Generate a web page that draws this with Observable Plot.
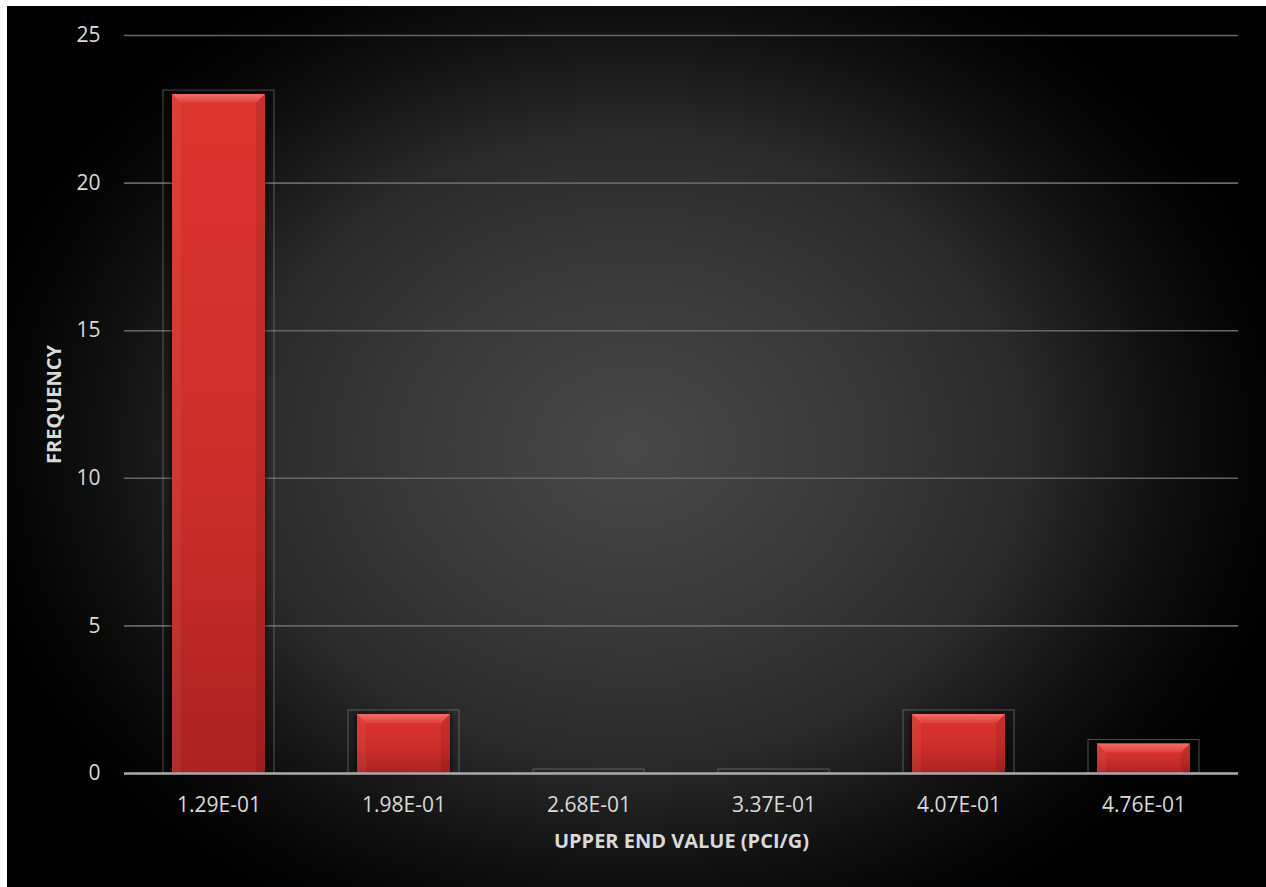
<!DOCTYPE html>
<html>
<head>
<meta charset="utf-8">
<script src="https://cdn.jsdelivr.net/npm/d3@7"></script>
<script src="https://cdn.jsdelivr.net/npm/@observablehq/plot@0.6"></script>
<style>
  html, body { margin: 0; padding: 0; background: #ffffff; width: 1266px; height: 887px; overflow: hidden; }
  #bg {
    position: absolute; left: 7px; top: 6px; width: 1259px; height: 881px;
    background: radial-gradient(ellipse 700px 560px at 626px 441px,
      #484848 0%, #414141 15%, #373737 35%, #2a2a2a 56%, #1a1a1a 68%, #0e0e0e 78%, #050505 88%, #000000 97%);
  }
  #chart { position: absolute; left: 0; top: 0; }
</style>
</head>
<body>
<div id="bg"></div>
<div id="chart"></div>
<script>
const categories = ["1.29E-01", "1.98E-01", "2.68E-01", "3.37E-01", "4.07E-01", "4.76E-01"];
const frequency = [23, 2, 0, 0, 2, 1];
const yTicks = [0, 5, 10, 15, 20, 25];
const xTitle = "UPPER END VALUE (PCI/G)";
const yTitle = "FREQUENCY";

const data = categories.map((c, i) => ({cat: c, freq: frequency[i]}));

const svg = Plot.plot({
  width: 1266,
  height: 887,
  marginLeft: 124,
  marginRight: 28,
  marginTop: 35,
  marginBottom: 114,
  style: {background: "transparent", fontFamily: "'Open Sans', sans-serif", fontSize: "21px", color: "#d9d9d9"},
  x: {domain: categories, paddingInner: 0.4, paddingOuter: 0.2, label: null},
  y: {domain: [0, 25], label: null},
  marks: [
    Plot.gridY(yTicks, {stroke: "#666666", strokeOpacity: 1, strokeWidth: 1.6}),
    Plot.barY(data, {x: "cat", y: "freq", fill: "none", stroke: "#8c8c8c", strokeOpacity: 0.55, strokeWidth: 1, insetTop: -4}),
    Plot.barY(data, {x: "cat", y: "freq", fill: "url(#redgrad)", insetLeft: 9, insetRight: 9}),
    Plot.ruleY([0], {stroke: "#a8a8a8", strokeWidth: 2.5}),
    Plot.axisX({tickSize: 0, tickPadding: 24, label: null, fill: "#d9d9d9", fontSize: 21}),
    Plot.axisY(yTicks, {tickSize: 0, tickPadding: 24, label: null, fill: "#d9d9d9", fontSize: 21}),
    Plot.text([xTitle], {frameAnchor: "bottom", dy: 68, lineAnchor: "middle", textAnchor: "middle", fill: "#d9d9d9", fontSize: 20, fontWeight: "bold"}),
    Plot.text([yTitle], {frameAnchor: "left", dx: -70, rotate: -90, lineAnchor: "middle", textAnchor: "middle", fill: "#d9d9d9", fontSize: 20, fontWeight: "bold"})
  ]
});

// gradient definitions for the bevelled bars
const s = d3.select(svg);
const defs = s.insert("defs", ":first-child");
const g1 = defs.append("linearGradient").attr("id", "redgrad").attr("x1", 0).attr("y1", 0).attr("x2", 0).attr("y2", 1);
g1.append("stop").attr("offset", "0%").attr("stop-color", "#dd342f");
g1.append("stop").attr("offset", "55%").attr("stop-color", "#cd2e2a");
g1.append("stop").attr("offset", "100%").attr("stop-color", "#ac2222");
const g2 = defs.append("linearGradient").attr("id", "bevtop").attr("x1", 0).attr("y1", 0).attr("x2", 0).attr("y2", 1);
g2.append("stop").attr("offset", "0%").attr("stop-color", "#f0706a");
g2.append("stop").attr("offset", "100%").attr("stop-color", "#e0403a");

const redGroup = s.select('g[fill="url(#redgrad)"]');
redGroup.style("filter", "drop-shadow(0px 0px 3px rgba(0,0,0,0.85))");
redGroup.selectAll("rect").each(function () {
  const r = d3.select(this);
  const x = +r.attr("x"), y = +r.attr("y"), w = +r.attr("width"), h = +r.attr("height");
  if (!(h > 0.5)) return;
  const b = Math.min(9, h / 2, w / 2);
  const parent = d3.select(this.parentNode);
  parent.append("polygon")
    .attr("points", [[x, y], [x + w, y], [x + w - b, y + b], [x + b, y + b]].join(" "))
    .attr("fill", "url(#bevtop)");
  parent.append("polygon")
    .attr("points", [[x, y], [x + b, y + b], [x + b, y + h], [x, y + h]].join(" "))
    .attr("fill", "rgba(255,255,255,0.05)");
  parent.append("polygon")
    .attr("points", [[x + w, y], [x + w, y + h], [x + w - b, y + h], [x + w - b, y + b]].join(" "))
    .attr("fill", "rgba(0,0,0,0.09)");
});

document.getElementById("chart").appendChild(svg);
</script>
</body>
</html>
